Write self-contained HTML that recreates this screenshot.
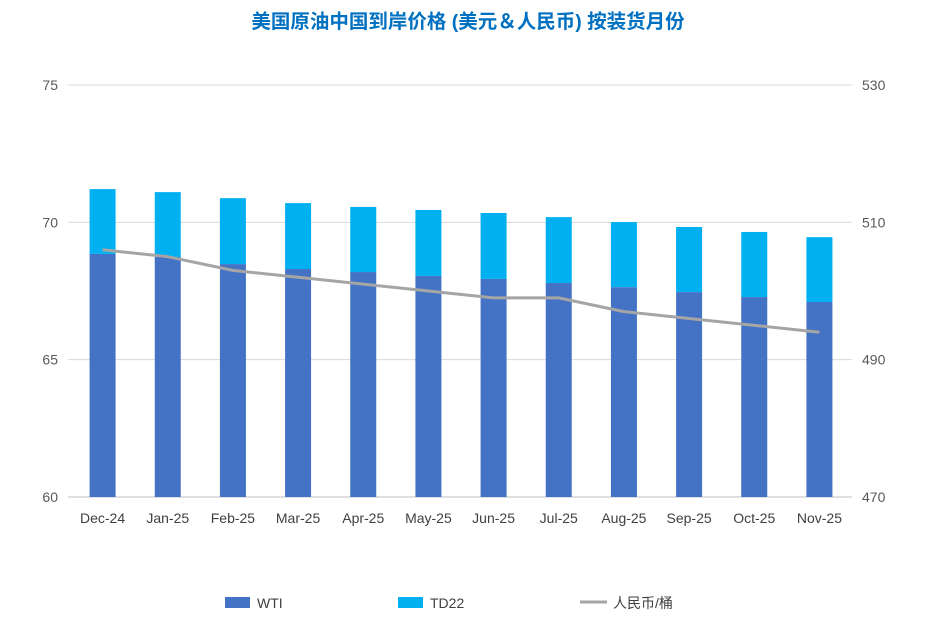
<!DOCTYPE html>
<html><head><meta charset="utf-8"><style>
body{margin:0;background:#fff;font-family:"Liberation Sans","Noto Sans CJK SC",sans-serif;}
</style></head><body>
<svg id="chart" width="937" height="634" xmlns="http://www.w3.org/2000/svg" font-family="Liberation Sans, Noto Sans CJK SC, sans-serif">
<text x="468" y="28" text-anchor="middle" font-size="19.5" font-weight="bold" fill="#0070C0">美国原油中国到岸价格 (美元＆人民币) 按装货月份</text>
<g id="grid"></g><g id="bars"></g><g id="line"></g><g id="axes"></g>
<g font-size="14" fill="#404040">
<rect x="225" y="597" width="25" height="11" fill="#4472C4"/>
<text x="257" y="608">WTI</text>
<rect x="398" y="597" width="25" height="11" fill="#00B0F0"/>
<text x="430" y="608">TD22</text>
<line x1="580" y1="602" x2="607" y2="602" stroke="#A5A5A5" stroke-width="3"/>
<text x="613" y="608">人民币/桶</text>
</g>
</svg>
<script>
const categories=["Dec-24","Jan-25","Feb-25","Mar-25","Apr-25","May-25","Jun-25","Jul-25","Aug-25","Sep-25","Oct-25","Nov-25"];
const wti=[68.85,68.74,68.48,68.3,68.19,68.05,67.94,67.79,67.64,67.46,67.28,67.1];
const td22=[2.36,2.36,2.4,2.4,2.37,2.4,2.4,2.4,2.37,2.37,2.37,2.36];
const rmb=[506,505,503,502,501,500,499,499,497,496,495,494];
const leftTicks=[60,65,70,75];
const rightTicks=[470,490,510,530];
const NS="http://www.w3.org/2000/svg";
const x0=70,x1=852,yB=497,yT=85;
const yL=v=>yB-(v-60)/15*(yB-yT);
const yR=v=>yB-(v-470)/60*(yB-yT);
const bw=(x1-x0)/categories.length;
const xc=i=>x0+bw*(i+0.5);
function mk(t,a,p){const e=document.createElementNS(NS,t);for(const k in a)e.setAttribute(k,a[k]);p.appendChild(e);return e;}
const G=document.getElementById('grid'),B=document.getElementById('bars'),L=document.getElementById('line'),A=document.getElementById('axes');
leftTicks.forEach((v,i)=>{
 const ln=mk('line',{x1:x0-2,x2:x1,y1:yL(v),y2:yL(v),stroke:v===60?'#BFBFBF':'#D9D9D9','stroke-width':1},G);
 
 
 const t=mk('text',{x:58,y:yL(v)+5,'text-anchor':'end','font-size':14,fill:'#595959'},A);t.textContent=v;
 
 
});
rightTicks.forEach(v=>{
 const t=mk('text',{x:862,y:yR(v)+5,'font-size':14,fill:'#595959'},A);t.textContent=v;
 
 
});
categories.forEach((c,i)=>{
 const w=26;
 const r1=mk('rect',{x:xc(i)-w/2,y:yL(wti[i]),width:w,height:yB-yL(wti[i]),fill:'#4472C4'},B);
 
 
 const r2=mk('rect',{x:xc(i)-w/2,y:yL(wti[i]+td22[i]),width:w,height:yL(wti[i])-yL(wti[i]+td22[i]),fill:'#00B0F0'},B);
 
 
 const t=mk('text',{x:xc(i),y:523,'text-anchor':'middle','font-size':14,fill:'#404040'},A);t.textContent=c;
 
 
});
const pl=mk('polyline',{points:rmb.map((v,i)=>xc(i)+','+yR(v)).join(' '),fill:'none',stroke:'#A5A5A5','stroke-width':3,'stroke-linejoin':'round'},L);


</script>
</body></html>
